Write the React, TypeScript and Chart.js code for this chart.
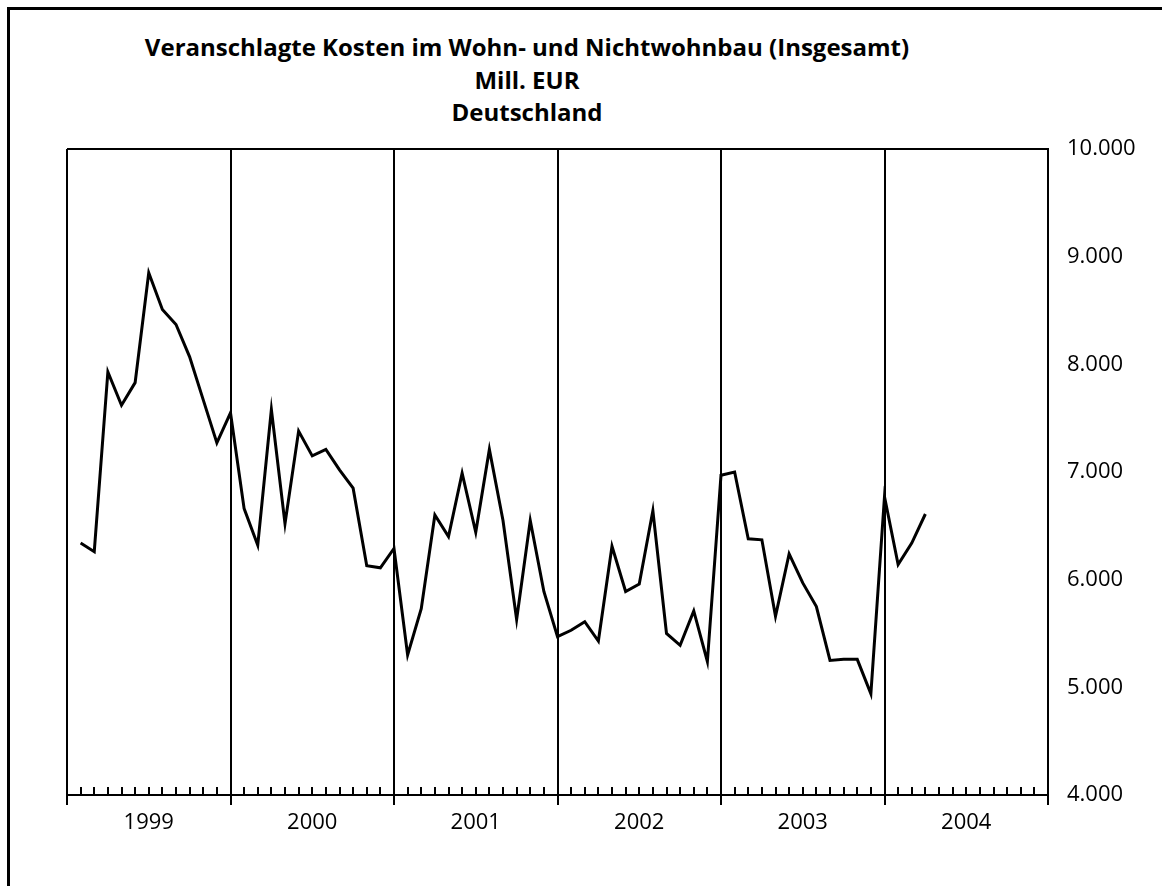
import React, { useEffect, useRef } from 'react';
import { Chart, registerables } from 'chart.js';

Chart.register(...registerables);

const titleLines = [
  'Veranschlagte Kosten im Wohn- und Nichtwohnbau (Insgesamt)',
  'Mill. EUR',
  'Deutschland',
];

const years = ['1999', '2000', '2001', '2002', '2003', '2004'];

const values1999 = [6340, 6260, 7930, 7620, 7830, 8850, 8510, 8370, 8070, 7670, 7270, 7550];
const values2000 = [6660, 6320, 7580, 6520, 7380, 7150, 7210, 7020, 6850, 6130, 6110, 6290];
const values2001 = [5300, 5730, 6600, 6400, 6990, 6440, 7210, 6550, 5630, 6550, 5890, 5470];
const values2002 = [5530, 5610, 5430, 6310, 5890, 5960, 6640, 5500, 5390, 5710, 5240, 6970];
const values2003 = [7000, 6380, 6370, 5660, 6240, 5970, 5750, 5250, 5260, 5260, 4940, 6770];
const values2004 = [6140, 6340, 6610];

const yTickValues = [4000, 5000, 6000, 7000, 8000, 9000, 10000];
const monthsPerYear = 12;

const fmt = (v: number) => String(v).replace(/\B(?=(\d{3})+(?!\d))/g, '.');

export default function App() {
  const ref = useRef<HTMLCanvasElement>(null);

  useEffect(() => {
    if (!ref.current) return;
    const all = [...values1999, ...values2000, ...values2001, ...values2002, ...values2003, ...values2004];
    const data = all.map((v, i) => ({ x: i + 1, y: v }));
    const totalMonths = years.length * monthsPerYear;
    const xTickVals: number[] = [];
    for (let v = 0; v <= totalMonths; v += monthsPerYear / 2) xTickVals.push(v);

    const minorTicks = {
      id: 'minorTicks',
      afterDraw(chart: any) {
        const xs = chart.scales.x;
        const bottom = chart.chartArea.bottom;
        const ctx = chart.ctx;
        ctx.save();
        ctx.strokeStyle = '#000';
        ctx.lineWidth = 2;
        ctx.beginPath();
        for (let m = 1; m < totalMonths; m++) {
          if (m % monthsPerYear === 0) continue;
          const x = Math.round(xs.getPixelForValue(m));
          ctx.moveTo(x, bottom);
          ctx.lineTo(x, bottom - 8);
        }
        ctx.stroke();
        ctx.restore();
      },
    };

    const font = { family: "'Open Sans', sans-serif", size: 22 };

    const chart = new Chart(ref.current, {
      type: 'line',
      data: {
        datasets: [
          {
            data,
            borderColor: '#000',
            borderWidth: 3,
            pointRadius: 0,
            tension: 0,
            fill: false,
          },
        ],
      },
      options: {
        responsive: false,
        animation: false,
        devicePixelRatio: 1,
        layout: { padding: { left: 67, top: 149, right: 0, bottom: 0 } },
        plugins: {
          legend: { display: false },
          title: { display: false },
          tooltip: { enabled: false },
        },
        scales: {
          x: {
            type: 'linear',
            min: 0,
            max: totalMonths,
            afterBuildTicks: (s: any) => {
              s.ticks = xTickVals.map((v) => ({ value: v }));
            },
            afterFit: (s: any) => {
              s.height = 91;
              s.paddingLeft = 0;
              s.paddingRight = 0;
            },
            ticks: {
              autoSkip: false,
              maxRotation: 0,
              minRotation: 0,
              color: '#000',
              font,
              padding: 5,
              callback: (v: any) =>
                v % monthsPerYear === monthsPerYear / 2 ? years[(v - monthsPerYear / 2) / monthsPerYear] : '',
            },
            grid: {
              color: (c: any) => (c.tick && c.tick.value % monthsPerYear === 0 ? '#000' : 'rgba(0,0,0,0)'),
              lineWidth: 2,
              tickLength: 10,
              drawOnChartArea: true,
            },
            border: { display: true, color: '#000', width: 2 },
          },
          y: {
            type: 'linear',
            position: 'right',
            min: 4000,
            max: 10000,
            afterBuildTicks: (s: any) => {
              s.ticks = yTickValues.map((v) => ({ value: v }));
            },
            afterFit: (s: any) => {
              s.width = 114;
              s.paddingTop = 0;
              s.paddingBottom = 0;
            },
            ticks: {
              color: '#000',
              font,
              padding: 19,
              callback: (v: any) => fmt(v),
            },
            grid: {
              drawTicks: false,
              color: (c: any) => (c.tick && c.tick.value === 10000 ? '#000' : 'rgba(0,0,0,0)'),
              lineWidth: 2,
            },
            border: { display: true, color: '#000', width: 2 },
          },
        },
      },
      plugins: [minorTicks],
    } as any);

    return () => chart.destroy();
  }, []);

  return (
    <div style={{ position: 'absolute', left: 0, top: 0, width: 1162, height: 886, overflow: 'hidden', background: '#fff' }}>
      <div
        style={{
          position: 'absolute',
          left: 7,
          top: 7,
          width: 1300,
          height: 1000,
          borderLeft: '3px solid #000',
          borderTop: '3px solid #000',
        }}
      />
      <div
        style={{
          position: 'absolute',
          left: 0,
          top: 31,
          width: 1054,
          textAlign: 'center',
          fontFamily: "'Open Sans', sans-serif",
          fontWeight: 700,
          fontSize: 24,
          lineHeight: '32.5px',
          color: '#000',
        }}
      >
        {titleLines.map((l) => (
          <div key={l}>{l}</div>
        ))}
      </div>
      <canvas ref={ref} width={1162} height={886} style={{ position: 'absolute', left: 0, top: 0 }} />
    </div>
  );
}
